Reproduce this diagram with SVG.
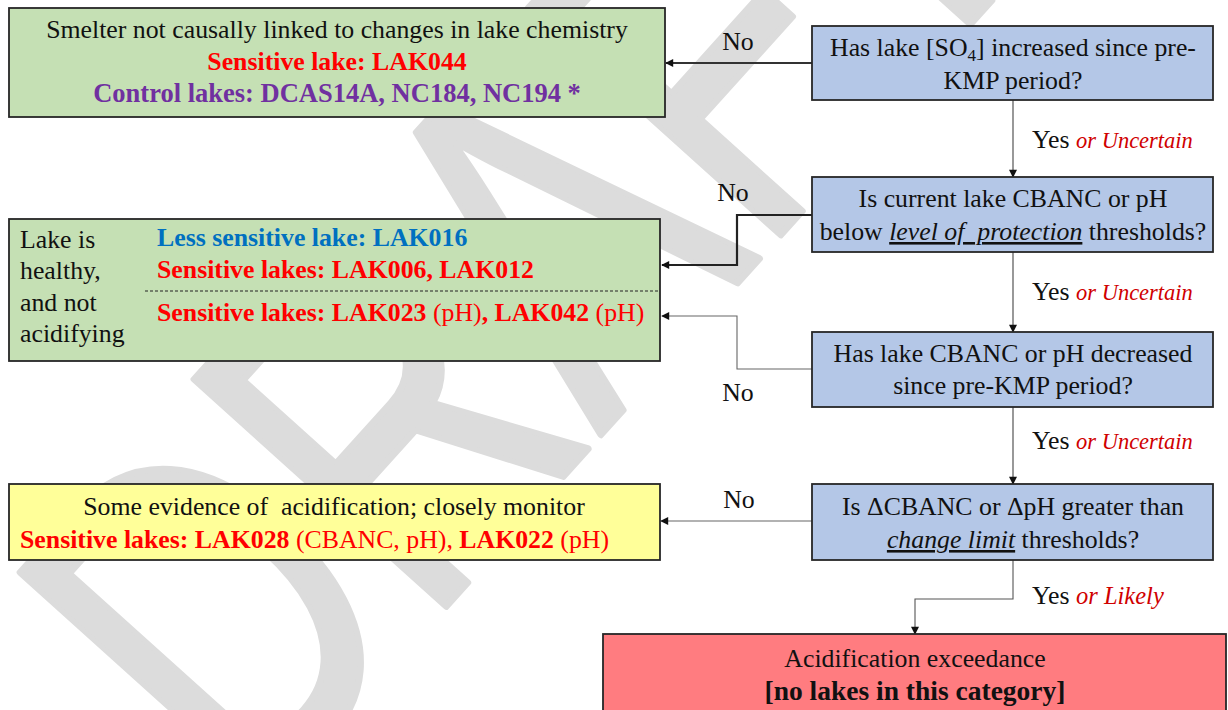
<svg xmlns="http://www.w3.org/2000/svg" width="1228" height="710" viewBox="0 0 1228 710">
<style>
text{font-family:"Liberation Serif","Times New Roman",serif;font-size:25.8px;fill:#111}
.b{font-weight:bold}
.red{fill:#ff0000}
.pur{fill:#7030a0}
.blu{fill:#0070c0}
.it{font-style:italic;fill:#d00000;font-size:22.5px}
.u{text-decoration:underline;font-style:italic}
.box{stroke:#262626;stroke-width:1.8}
.green{fill:#c5e0b4}
.blue{fill:#b4c7e7}
.yellow{fill:#ffff99}
.pink{fill:#ff7c80}
.c{fill:none}
.wm{font-family:"Liberation Sans",Arial,sans-serif;font-size:493px;fill:#dcdcdc;stroke:#dcdcdc;stroke-width:7;stroke-linejoin:round}
</style>
<defs>
<marker id="ah" viewBox="0 0 10 10" refX="9" refY="5" markerWidth="9" markerHeight="8" markerUnits="userSpaceOnUse" orient="auto">
<path d="M0,0 L10,5 L0,10 z" fill="#111"/>
</marker>
</defs>
<rect width="1228" height="710" fill="#ffffff"/>
<text class="wm" transform="translate(252,822) rotate(-48) scale(0.73,1)">DRAFT</text>

<g id="connectors">
<path class="c" d="M812,63 H666" stroke="#333" stroke-width="1.8" marker-end="url(#ah)"/>
<path class="c" d="M1013,100 V177" stroke="#444" stroke-width="1.1" marker-end="url(#ah)"/>
<path class="c" d="M812,215 H737 V265 H662" stroke="#222" stroke-width="2.2" marker-end="url(#ah)"/>
<path class="c" d="M1013,252 V332" stroke="#444" stroke-width="1.1" marker-end="url(#ah)"/>
<path class="c" d="M812,369 H737 V316 H662" stroke="#666" stroke-width="1.1" marker-end="url(#ah)"/>
<path class="c" d="M1013,407 V484" stroke="#444" stroke-width="1.1" marker-end="url(#ah)"/>
<path class="c" d="M812,521 H661" stroke="#666" stroke-width="1.1" marker-end="url(#ah)"/>
<path class="c" d="M1013,560 V599 H915 V634" stroke="#555" stroke-width="1.1" marker-end="url(#ah)"/>
<text x="738" y="50" text-anchor="middle">No</text>
<text x="1032" y="148">Yes <tspan class="it">or Uncertain</tspan></text>
<text x="733" y="201" text-anchor="middle">No</text>
<text x="1032" y="300">Yes <tspan class="it">or Uncertain</tspan></text>
<text x="738" y="401" text-anchor="middle">No</text>
<text x="1032" y="449">Yes <tspan class="it">or Uncertain</tspan></text>
<text x="739" y="508" text-anchor="middle">No</text>
<text x="1032" y="604">Yes <tspan class="it" style="font-size:24.5px">or Likely</tspan></text>
</g>

<g id="smelter-not-linked">
<rect class="box green" x="9" y="8" width="656" height="109"/>
<text x="337" y="38" text-anchor="middle">Smelter not causally linked to changes in lake chemistry</text>
<text x="337" y="70" text-anchor="middle" class="b red">Sensitive lake: LAK044</text>
<text x="337" y="102" text-anchor="middle" class="b pur" style="font-size:26.5px">Control lakes: DCAS14A, NC184, NC194 *</text>
</g>

<g id="q-so4">
<rect class="box blue" x="812" y="26" width="401" height="74"/>
<text x="1013" y="56" text-anchor="middle">Has lake [SO<tspan font-size="17" dy="5">4</tspan><tspan dy="-5">] increased since pre-</tspan></text>
<text x="1013" y="89" text-anchor="middle">KMP period?</text>
</g>

<g id="q-level">
<rect class="box blue" x="812" y="177" width="401" height="75"/>
<text x="1013" y="207" text-anchor="middle">Is current lake CBANC or pH</text>
<text x="1013" y="240" text-anchor="middle">below <tspan class="u">level of&#160; protection</tspan> thresholds?</text>
</g>

<g id="lake-healthy">
<rect class="box green" x="9" y="219" width="651" height="142"/>
<text x="20" y="248">Lake is</text>
<text x="20" y="279">healthy,</text>
<text x="20" y="311">and not</text>
<text x="20" y="342">acidifying</text>
<text x="157" y="246" class="b blu">Less sensitive lake: LAK016</text>
<text x="157" y="278" class="b red">Sensitive lakes: LAK006, LAK012</text>
<line x1="145" y1="291" x2="659" y2="291" stroke="#222" stroke-width="1" stroke-dasharray="3,2"/>
<text x="157" y="321" class="red"><tspan class="b">Sensitive lakes: LAK023</tspan> (pH)<tspan class="b">, LAK042</tspan> (pH)</text>
</g>

<g id="q-decreased">
<rect class="box blue" x="812" y="332" width="401" height="75"/>
<text x="1013" y="362" text-anchor="middle">Has lake CBANC or pH decreased</text>
<text x="1013" y="394" text-anchor="middle">since pre-KMP period?</text>
</g>

<g id="q-change">
<rect class="box blue" x="812" y="484" width="401" height="76"/>
<text x="1013" y="515" text-anchor="middle">Is ΔCBANC or ΔpH greater than</text>
<text x="1013" y="548" text-anchor="middle"><tspan class="u">change limit</tspan> thresholds?</text>
</g>

<g id="some-evidence">
<rect class="box yellow" x="9" y="484" width="651" height="76"/>
<text x="334" y="515" text-anchor="middle">Some evidence of&#160; acidification; closely monitor</text>
<text x="20" y="548" class="red"><tspan class="b">Sensitive lakes: LAK028</tspan> (CBANC, pH), <tspan class="b">LAK022</tspan> (pH)</text>
</g>

<g id="exceedance">
<rect class="box pink" x="603" y="634" width="623" height="90"/>
<text x="915" y="667" text-anchor="middle">Acidification exceedance</text>
<text x="915" y="700" text-anchor="middle" class="b" style="font-size:27.5px">[no lakes in this category]</text>
</g>
</svg>
